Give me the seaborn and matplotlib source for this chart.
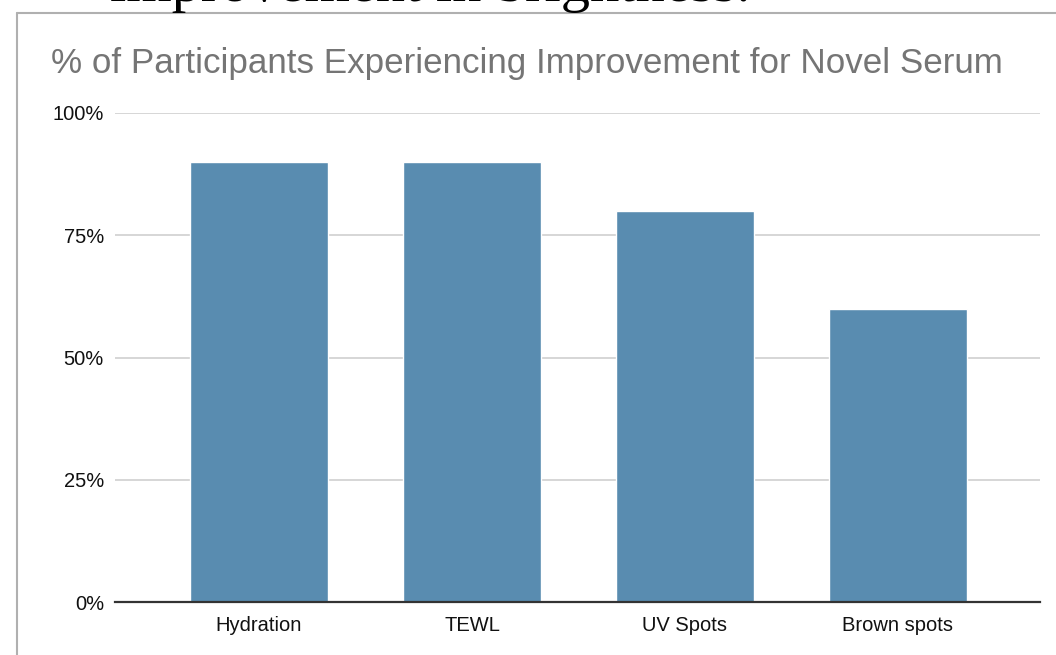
import matplotlib
matplotlib.use('Agg')
import matplotlib.pyplot as plt
import seaborn as sns
import pandas as pd
from matplotlib.ticker import PercentFormatter
from matplotlib.lines import Line2D

# chart data
categories = ['Hydration', 'TEWL', 'UV Spots', 'Brown spots']
pct_improved = [0.90, 0.90, 0.80, 0.60]
y_ticks = [0, 0.25, 0.50, 0.75, 1.00]

title = '% of Participants Experiencing Improvement for Novel Serum'
doc_text = 'improvement in brightness.'

df = pd.DataFrame({'category': categories, 'pct': pct_improved})

sns.set_style('white')
plt.rcParams['font.family'] = ['Liberation Sans', 'DejaVu Sans']

fig = plt.figure(figsize=(10.56, 6.55), dpi=100)
ax = fig.add_axes([115 / 1056, 1 - 602 / 655, 925 / 1056, 489 / 655])

sns.barplot(data=df, x='category', y='pct', color='#598cb0', saturation=1,
            width=0.648, ax=ax, zorder=3)

ax.set_xlim(-0.676, 3.667)
ax.set_ylim(0, 1.0)
ax.set_yticks(y_ticks)
ax.yaxis.set_major_formatter(PercentFormatter(1.0, decimals=0))
ax.grid(axis='y', color='#cccccc', linewidth=1.1, zorder=0)
ax.set_xlabel('')
ax.set_ylabel('')
for s in ['top', 'right', 'left']:
    ax.spines[s].set_visible(False)
ax.spines['bottom'].set_color('#333333')
ax.spines['bottom'].set_linewidth(1.6)
ax.spines['bottom'].set_zorder(4)
ax.tick_params(axis='y', length=0, pad=8, labelsize=14.5, labelcolor='#111111')
ax.tick_params(axis='x', length=0, pad=10, labelsize=14.5, labelcolor='#111111')

# chart title
fig.text(51 / 1056, 1 - 63 / 655, title, fontsize=25.2, color='#757575',
         ha='left', va='center')

# spreadsheet frame around the chart
fig.add_artist(Line2D([17 / 1056, 17 / 1056], [0, 1 - 13 / 655],
                      transform=fig.transFigure, color='#b0b0b0', linewidth=1.5))
fig.add_artist(Line2D([17 / 1056, 1], [1 - 13 / 655, 1 - 13 / 655],
                      transform=fig.transFigure, color='#b0b0b0', linewidth=1.5))

# cropped document text above the chart
fig.text(110 / 1056, 1 - 1 / 655, doc_text, fontsize=42,
         family=['Liberation Serif'], color='black', ha='left', va='baseline')

fig.savefig('out.png', dpi=100)
